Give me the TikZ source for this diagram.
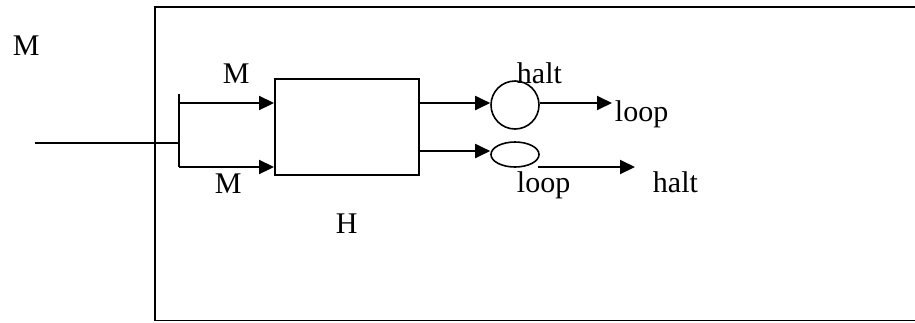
\documentclass[tikz,border=0pt]{standalone}
\usepackage{fontspec}
\setmainfont{Liberation Serif}
\usetikzlibrary{shapes.geometric,arrows.meta}
\begin{document}
\begin{tikzpicture}[x=1pt,y=-1pt,
  line width=1.9pt,
  lbl/.style={inner sep=0pt,anchor=base west,font=\fontsize{30}{34}\selectfont},
  arr/.style={-{Triangle[length=15pt,width=14pt]}},
  blk/.style={draw,rectangle,minimum width=144pt,minimum height=96pt,inner sep=0pt,line width=1.9pt},
  circ/.style={draw,circle,minimum size=48pt,inner sep=0pt,line width=1.6pt},
  ell/.style={draw,ellipse,minimum width=48pt,minimum height=25pt,inner sep=0pt,line width=1.6pt}]
\useasboundingbox (0,0) rectangle (915,322);
% outer frame (right side lies beyond the picture)
\draw (916,7) -- (155,7) -- (155,320.5) -- (916,320.5);
% blocks
\node[blk] (H) at (347,127) {};
\node[circ] (c1) at (515,105) {};
\node[ell] (e1) at (515,154.5) {};
% input and split
\coordinate (in) at (35,143);
\coordinate (sp) at (179,143);
\coordinate (vt) at (179,94);
\coordinate (vb) at (179,167);
\coordinate (t1) at (179,103);
\draw (in) -- (sp);
\draw (vt) -- (vb);
\draw[arr] (t1) -- (H.west |- t1);
\draw[arr] (vb) -- (H.west |- vb);
% outputs of H
\coordinate (o1) at (419,103);
\coordinate (o2) at (419,151);
\draw[arr] (H.east |- o1) -- (c1.west |- o1);
\draw[arr] (H.east |- o2) -- (e1.west |- o2);
% outputs of circle and ellipse
\coordinate (c1o) at (612,103);
\draw[arr] (c1.east |- c1o) -- (c1o);
\coordinate (e1s) at (538,167);
\coordinate (e1o) at (635,167);
\draw[arr] (e1s) -- (e1o);
% labels
\node[lbl] (lM) at (12,55) {M};
\node[lbl] (lMt) at (222,83) {M};
\node[lbl] (lMb) at (214,193) {M};
\node[lbl] (lH) at (335,233) {H};
\node[lbl] (lh1) at (516,83) {halt};
\node[lbl] (ll1) at (614,121) {loop};
\node[lbl] (ll2) at (516,192) {loop};
\node[lbl] (lh2) at (652,192) {halt};
\end{tikzpicture}
\end{document}
